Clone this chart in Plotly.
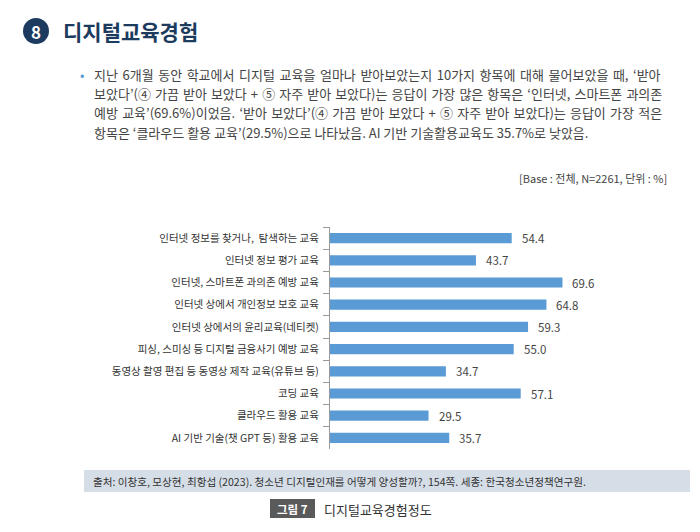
import plotly.graph_objects as go

categories = [
    "인터넷 정보를 찾거나,  탐색하는 교육",
    "인터넷 정보 평가 교육",
    "인터넷, 스마트폰 과의존 예방 교육",
    "인터넷 상에서 개인정보 보호 교육",
    "인터넷 상에서의 윤리교육(네티켓)",
    "피싱, 스미싱 등 디지털 금융사기 예방 교육",
    "동영상 촬영 편집 등 동영상 제작 교육(유튜브 등)",
    "코딩 교육",
    "클라우드 활용 교육",
    "AI 기반 기술(챗 GPT 등) 활용 교육",
]
values = [54.4, 43.7, 69.6, 64.8, 59.3, 55.0, 34.7, 57.1, 29.5, 35.7]

body_lines = [
    "지난 6개월 동안 학교에서 디지털 교육을 얼마나 받아보았는지 10가지 항목에 대해 물어보았을 때, ‘받아",
    "보았다’(④ 가끔 받아 보았다 + ⑤ 자주 받아 보았다)는 응답이 가장 많은 항목은 ‘인터넷, 스마트폰 과의존",
    "예방 교육’(69.6%)이었음. ‘받아 보았다’(④ 가끔 받아 보았다 + ⑤ 자주 받아 보았다)는 응답이 가장 적은",
    "항목은 ‘클라우드 활용 교육’(29.5%)으로 나타났음. AI 기반 기술활용교육도 35.7%로 낮았음.",
]
# extra word spacing (px) used to justify each body line
body_word_spacing = [1.65, 1.15, 1.3, 0]

W, H = 700, 532
FONT = "Noto Sans CJK KR"
NAVY = "#1c3b5e"

def px(x):
    return x / W

def py(y):
    return 1 - y / H

fig = go.Figure()
fig.add_trace(go.Bar(
    x=values, y=categories, orientation="h",
    marker=dict(color="#5b9bd5", line=dict(width=0)),
    width=0.46, hoverinfo="skip",
))

annotations = []
for c, v in zip(categories, values):
    annotations.append(dict(
        x=v, y=c, xref="x", yref="y", text=f"{v:.1f}", showarrow=False,
        xanchor="left", yanchor="middle", xshift=8,
        font=dict(size=11.5, color="#444444", family=FONT),
    ))

def ann(x, y, text, size, color, xanchor="left", **kw):
    annotations.append(dict(x=px(x), y=py(y), xref="paper", yref="paper", text=text,
                            showarrow=False, xanchor=xanchor, yanchor="middle",
                            font=dict(size=size, color=color, family=FONT), **kw))

# Title
ann(36, 31, "<b>8</b>", 17, "white", xanchor="center")
ann(61, 31, "<b>디지털교육경험</b>", 21, NAVY)

# body
ann(82, 74, "•", 13, "#5b9bd5", xanchor="center")
for i, (line, ws) in enumerate(zip(body_lines, body_word_spacing)):
    txt = f'<span style="word-spacing:{ws}px">{line}</span>' if ws else line
    ann(92, 75 + 19 * i, txt, 13, "#444444")

ann(669, 178, "[Base : 전체, N=2261, 단위 : %]", 11, "#444444", xanchor="right")

ann(91, 481, "출처: 이창호, 모상현, 최항섭 (2023). 청소년 디지털인재를 어떻게 양성할까?, 154쪽. 세종: 한국청소년정책연구원.",
    10.6, "#333333")

ann(292.5, 508.5, "<b>그림 7</b>", 11.5, "white", xanchor="center")
ann(322, 509, "디지털교육경험정도", 13, "#333333")

shapes = [
    dict(type="circle", xref="paper", yref="paper", x0=px(23), x1=px(49), y0=py(44), y1=py(18),
         fillcolor=NAVY, line=dict(width=0), layer="below"),
    dict(type="rect", xref="paper", yref="paper", x0=px(84), x1=px(690), y0=py(492), y1=py(470),
         fillcolor="#d5dde7", line=dict(width=0), layer="below"),
    dict(type="rect", xref="paper", yref="paper", x0=px(270), x1=px(315), y0=py(518), y1=py(499),
         fillcolor="#5a5a5a", line=dict(width=0), layer="below"),
]

fig.update_layout(
    width=W, height=H,
    margin=dict(l=0, r=0, t=0, b=0),
    paper_bgcolor="white", plot_bgcolor="white",
    showlegend=False,
    font=dict(family=FONT),
    annotations=annotations,
    shapes=shapes,
    xaxis=dict(domain=[px(330), px(664)], range=[0, 100], visible=False, fixedrange=True),
    yaxis=dict(domain=[py(449), py(227)], autorange="reversed", type="category",
               showline=True, linecolor="#9a9a9a", linewidth=1,
               ticks="outside", tickson="boundaries", ticklen=6, tickcolor="#9a9a9a",
               ticklabelstandoff=8,
               tickfont=dict(size=10.5, color="#333333", family=FONT),
               showgrid=False, zeroline=False, fixedrange=True),
    bargap=0.54,
)

fig.write_html("out.html")
